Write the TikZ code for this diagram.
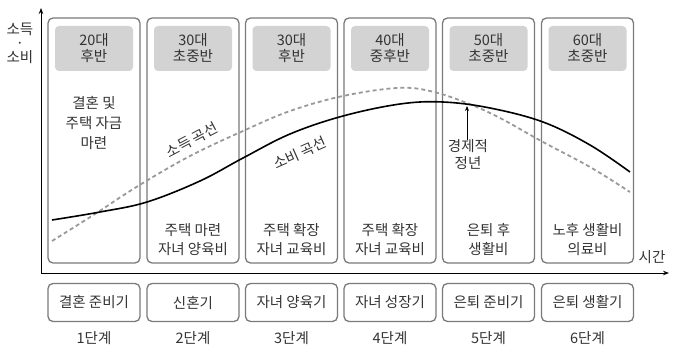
\documentclass[tikz,border=0pt]{standalone}
\usepackage{fontspec}
\setmainfont{Noto Sans CJK KR}
\usetikzlibrary{arrows.meta}
\definecolor{boxline}{HTML}{7A7A7A}
\definecolor{headfill}{HTML}{D3D3D3}
\definecolor{txt}{HTML}{333333}
\definecolor{dashc}{HTML}{999999}
\tikzset{
  colbox/.style={draw=boxline, line width=1.3pt, rounded corners=5pt, minimum width=92pt, minimum height=245pt, inner sep=0pt},
  headbox/.style={fill=headfill, rounded corners=4pt, minimum width=78pt, minimum height=45pt, inner sep=0pt, align=center, text=txt, font=\fontsize{14.5}{16}\selectfont},
  bodytxt/.style={align=center, text=txt, inner sep=0pt, font=\fontsize{14.5}{19}\selectfont},
  stagebox/.style={draw=boxline, line width=1.3pt, rounded corners=5pt, minimum width=92pt, minimum height=38pt, inner sep=0pt, text=txt, font=\fontsize{14.5}{16}\selectfont},
  steplabel/.style={text=txt, inner sep=0pt, font=\fontsize{14.5}{16}\selectfont},
  curvelabel/.style={text=txt, inner sep=0pt, font=\fontsize{14.5}{16}\selectfont},
  axisline/.style={line width=1pt, black, -{Stealth[length=6pt,width=4.5pt]}}
}
\begin{document}
\begin{tikzpicture}[x=1pt,y=-1pt]
\useasboundingbox (0,0) rectangle (673,345);
% columns
\foreach \i/\x/\h/\b in {1/94/{20대\\후반}/{},2/193/{30대\\초중반}/{주택 마련\\자녀 양육비},3/291.5/{30대\\후반}/{주택 확장\\자녀 교육비},4/390/{40대\\중후반}/{주택 확장\\자녀 교육비},5/488.5/{50대\\초중반}/{은퇴 후\\생활비},6/587.5/{60대\\초중반}/{노후 생활비\\의료비}}{
  \node[colbox] (c\i) at (\x,140.5) {};
  \node[headbox] (h\i) at (\x,48.5) {\h};
  \node[bodytxt] (b\i) at (\x,239.5) {\b};
}
\foreach \i/\x/\s in {1/94/결혼 준비기,2/193/신혼기,3/291.5/자녀 양육기,4/390/자녀 성장기,5/488.5/은퇴 준비기,6/587.5/은퇴 생활기}{
  \node[stagebox] (s\i) at (\x,302.5) {\s};
  \node[steplabel] (l\i) at (\x,338) {{\i}단계};
}
\node[bodytxt, font=\fontsize{14.5}{20}\selectfont] (b1t) at (94,123) {결혼 및\\주택 자금\\마련};
% axes
\coordinate (O) at (41,273);
\coordinate (Ytop) at (41,8);
\coordinate (Xend) at (669,273);
\draw[axisline] (O) -- (Ytop);
\draw[axisline] (O) -- (Xend);
\node[steplabel, align=center, font=\fontsize{14.5}{14}\selectfont] (ylab) at (20,43) {소득\\·\\소비};
\node[steplabel] (xlab) at (652,257) {시간};
% curves
\draw[dashc, line width=1.8pt, dash pattern=on 4pt off 3pt] plot[smooth, tension=0.6] coordinates {(52,241) (95,214) (138,186) (190,156) (243,131) (290,111) (343,96) (397,88) (430,91) (467,103) (500,118) (543,142) (590,167) (630,192)};
\draw[black, line width=1.6pt] plot[smooth, tension=0.6] coordinates {(52,220) (100,212) (147,202) (200,181) (243,158) (290,134) (343,116) (400,104) (443,102) (490,108) (543,122) (590,145) (630,172)};
\node[curvelabel, rotate=28] (inc) at (192,140) {소득 곡선};
\node[curvelabel, rotate=24] (con) at (300,153) {소비 곡선};
% economic retirement
\node[bodytxt, font=\fontsize{14.5}{17}\selectfont] (ret) at (468,155) {경제적\\정년};
\coordinate (peak) at (467,106);
\draw[line width=0.8pt, -{Stealth[length=5pt,width=4pt]}] (ret.north -| peak) -- (peak);
\end{tikzpicture}
\end{document}
